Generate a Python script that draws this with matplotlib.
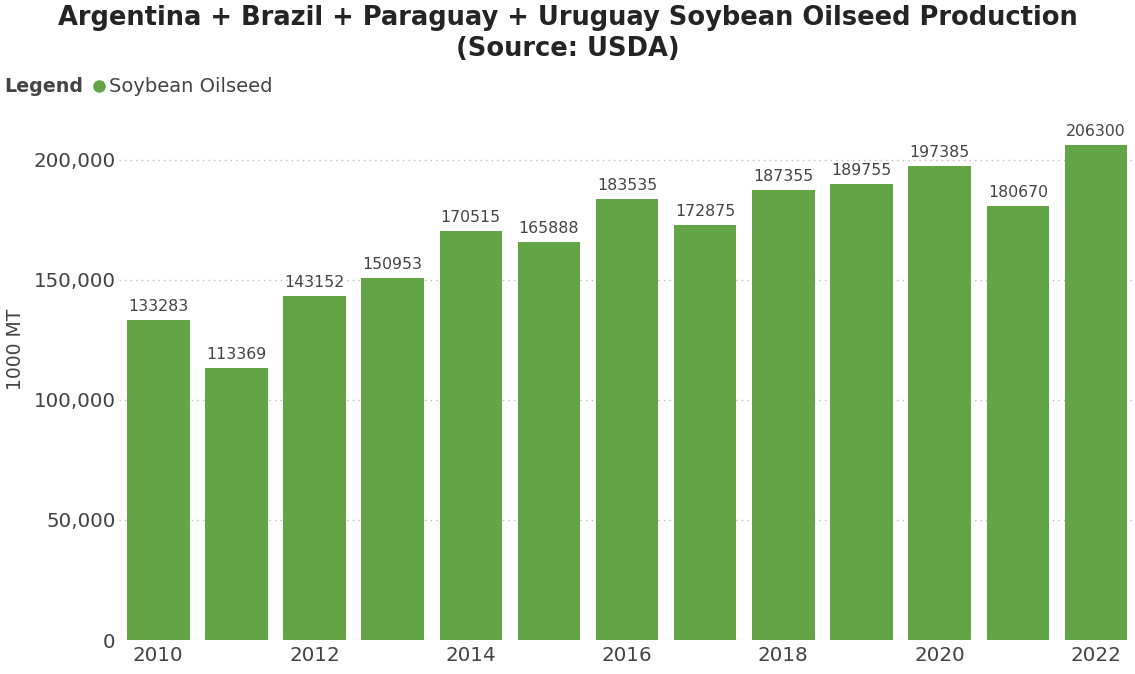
import matplotlib.pyplot as plt
from matplotlib.ticker import FuncFormatter, MultipleLocator

years = [2010, 2011, 2012, 2013, 2014, 2015, 2016, 2017, 2018, 2019, 2020, 2021, 2022]
production = [133283, 113369, 143152, 150953, 170515, 165888, 183535, 172875,
              187355, 189755, 197385, 180670, 206300]
tick_years = [2010, 2012, 2014, 2016, 2018, 2020, 2022]

bar_color = '#62A446'
text_color = '#444444'

plt.rcParams['font.family'] = 'DejaVu Sans'

fig = plt.figure(figsize=(11.35, 6.74), dpi=100)
ax = fig.add_axes([0.105, 0.0504, 0.895, 0.7836])

bars = ax.bar(years, production, width=0.8, color=bar_color, zorder=2)
for x, v in zip(years, production):
    ax.text(x, v + 2500, str(v), ha='center', va='bottom', fontsize=11.3, color=text_color)

ax.set_xlim(years[0] - 0.5, years[-1] + 0.5)
ax.set_ylim(0, 220000)
ax.yaxis.set_major_locator(MultipleLocator(50000))
ax.yaxis.set_major_formatter(FuncFormatter(lambda v, p: f'{int(v):,}'))
ax.set_xticks(tick_years)
ax.tick_params(axis='both', length=0, labelsize=14.3, colors=text_color)
ax.tick_params(axis='y', pad=2.5)
ax.tick_params(axis='x', pad=4)
ax.grid(axis='y', linestyle=(0, (1, 3)), color='#BBBBBB', linewidth=1, zorder=0)
for s in ax.spines.values():
    s.set_visible(False)
ax.set_ylabel('1000 MT', fontsize=13.5, color=text_color)
ax.yaxis.set_label_coords(-0.093, 0.55)

fig.text(0.5, 0.993, 'Argentina + Brazil + Paraguay + Uruguay Soybean Oilseed Production\n(Source: USDA)',
         ha='center', va='top', fontsize=18.5, fontweight='bold', color='#252423', linespacing=1.25)
fig.text(0.004, 0.872, 'Legend', ha='left', va='center', fontsize=13.7, fontweight='bold', color=text_color)
fig.lines.append(plt.Line2D([0.0875], [0.873], marker='o', markersize=8, color=bar_color,
                            transform=fig.transFigure, linestyle='none'))
fig.text(0.096, 0.872, 'Soybean Oilseed', ha='left', va='center', fontsize=14, color=text_color)

fig.savefig('out.png', dpi=100, facecolor='white')
